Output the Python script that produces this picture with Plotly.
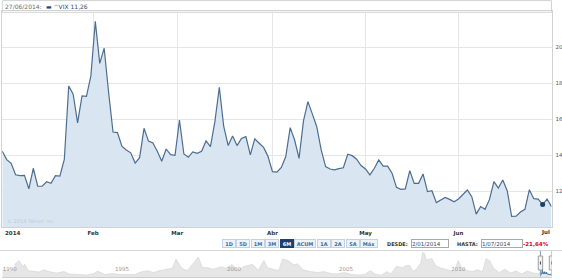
import pandas as pd
import plotly.graph_objects as go

# ---------------- data ----------------
HOLIDAYS = ["2014-01-20", "2014-02-17", "2014-04-18", "2014-05-26"]
dates = pd.bdate_range("2014-01-02", "2014-07-01", freq="C", holidays=HOLIDAYS)

vix = [
    # Jan
    14.23, 13.76, 13.55, 12.92, 12.87, 12.89, 12.14, 13.28, 12.28, 12.28, 12.53,
    12.44, 12.87, 12.84, 13.77, 17.85, 17.40, 15.80, 17.30, 17.28, 18.41,
    # Feb
    21.44, 19.11, 19.95, 17.50, 15.29, 15.26, 14.51, 14.30, 14.14, 13.57,
    13.87, 15.50, 14.79, 14.68, 14.23, 13.67, 14.35, 14.04, 14.00,
    # Mar
    15.96, 14.07, 13.89, 14.19, 14.11, 14.22, 14.80, 14.48, 15.87, 17.78, 15.60,
    14.54, 15.07, 14.54, 14.94, 15.04, 14.02, 14.91, 14.67, 14.44, 13.93,
    # Apr
    13.09, 13.07, 13.33, 13.93, 15.54, 14.85, 13.83, 15.91, 16.98, 16.30, 15.59,
    14.30, 13.37, 13.24, 13.19, 13.26, 13.31, 14.06, 13.98, 13.78, 13.43,
    # May
    13.24, 12.91, 13.28, 13.74, 13.40, 13.40, 13.00, 12.22, 12.11, 12.13, 13.15,
    12.44, 12.44, 12.96, 11.98, 12.03, 11.37, 11.52, 11.66, 11.55, 11.42,
    # Jun + Jul 1
    11.57, 11.85, 12.07, 11.70, 10.73, 11.15, 11.00, 11.55, 12.54, 12.18, 12.63,
    12.03, 10.61, 10.62, 10.85, 11.00, 12.09, 11.59, 11.57, 11.26, 11.57, 11.15,
]

month_ticks = ["2014-01-31 12:00", "2014-02-28 12:00", "2014-04-01", "2014-05-01", "2014-06-02"]
month_labels = ["Feb", "Mar", "Abr", "May", "Jun"]
first_label = "2014"
last_label = "Jul"
y_ticks = [12, 14, 16, 18, 20]

hover_date = "2014-06-27"

hist_dates = [
    "1990-01", "1990-04", "1990-07", "1990-08", "1990-10", "1990-12", "1991-01", "1991-03",
    "1991-06", "1991-09", "1991-11", "1992-02", "1992-06", "1992-10", "1993-01", "1993-06",
    "1993-10", "1994-02", "1994-04", "1994-08", "1994-12", "1995-04", "1995-08", "1995-12",
    "1996-03", "1996-07", "1996-10", "1997-01", "1997-04", "1997-08", "1997-10", "1998-01",
    "1998-04", "1998-08", "1998-10", "1998-12", "1999-03", "1999-06", "1999-10", "2000-01",
    "2000-04", "2000-07", "2000-10", "2000-12", "2001-03", "2001-06", "2001-09", "2001-11",
    "2002-02", "2002-05", "2002-07", "2002-10", "2003-01", "2003-03", "2003-06", "2003-10",
    "2004-02", "2004-05", "2004-09", "2004-12", "2005-04", "2005-08", "2005-12", "2006-03",
    "2006-06", "2006-09", "2006-12", "2007-03", "2007-05", "2007-08", "2007-11", "2008-01",
    "2008-03", "2008-05", "2008-07", "2008-09", "2008-10", "2008-11", "2008-12", "2009-03",
    "2009-05", "2009-08", "2009-12", "2010-03", "2010-05", "2010-07", "2010-10", "2011-01",
    "2011-03", "2011-06", "2011-08", "2011-10", "2011-12", "2012-03", "2012-06", "2012-09",
    "2012-12", "2013-03", "2013-06", "2013-09", "2013-12", "2014-02", "2014-04", "2014-06",
]
hist_vix = [
    22, 19, 17, 34, 41, 28, 33, 20,
    18, 17, 22, 18, 15, 18, 13, 12,
    11, 14, 19, 12, 14, 12, 12, 12,
    17, 20, 16, 20, 22, 25, 44, 25,
    20, 40, 48, 27, 26, 23, 28, 25,
    33, 20, 28, 30, 33, 21, 41, 26,
    23, 20, 44, 41, 32, 34, 22, 18,
    16, 18, 14, 13, 16, 12, 11, 12,
    20, 12, 11, 18, 13, 29, 26, 30,
    31, 18, 25, 36, 58, 55, 42, 45,
    30, 25, 21, 17, 41, 25, 20, 18,
    22, 18, 45, 40, 25, 16, 23, 15,
    19, 13, 19, 15, 14, 18, 15, 11,
]
year_ticks = ["1990-01-01", "1995-01-01", "2000-01-01", "2005-01-01", "2010-01-01"]
year_labels = ["1990", "1995", "2000", "2005", "2010"]

buttons = ["1D", "5D", "1M", "3M", "6M", "ACUM", "1A", "2A", "5A", "Máx"]
selected_button = "6M"

# ---------------- helpers (pixel -> paper) ----------------
W, H = 562, 280
def px(x):
    return x / W
def py(y):
    return 1 - y / H

FONT = "DejaVu Sans"
LINE_C = "#4d6d90"
FILL_C = "#d9e6f2"
GRID_C = "#e6e6e6"
FRAME_C = "#d2d2d2"

fig = go.Figure()

fig.add_trace(go.Scatter(
    x=dates, y=vix, mode="lines", fill="tozeroy",
    line=dict(color=LINE_C, width=1.2), fillcolor=FILL_C,
    xaxis="x", yaxis="y", hoverinfo="skip", showlegend=False,
))
hi = [d.strftime("%Y-%m-%d") for d in dates].index(hover_date)
fig.add_trace(go.Scatter(
    x=[dates[hi]], y=[vix[hi]], mode="markers",
    marker=dict(color="#1c3d6b", size=5),
    xaxis="x", yaxis="y", hoverinfo="skip", showlegend=False,
))

# navigator
fig.add_trace(go.Scatter(
    x=hist_dates, y=hist_vix, mode="lines", fill="tozeroy",
    line=dict(color="#d4d4d4", width=0.6), fillcolor="#e6e6e6",
    xaxis="x2", yaxis="y2", hoverinfo="skip", showlegend=False,
))
fig.add_trace(go.Scatter(
    x=dates, y=vix, mode="lines",
    line=dict(color="#3f6f9f", width=1),
    xaxis="x2", yaxis="y2", hoverinfo="skip", showlegend=False,
))

x_dom = [px(2.3), px(551.5)]

fig.update_layout(
    width=W, height=H, autosize=False,
    margin=dict(l=0, r=0, t=0, b=0),
    paper_bgcolor="white", plot_bgcolor="white",
    font=dict(family=FONT, size=6, color="#555"),
    showlegend=False,
    xaxis=dict(
        domain=x_dom, anchor="y",
        range=[dates[0], dates[-1]],
        rangebreaks=[dict(bounds=["sat", "mon"]), dict(values=HOLIDAYS)],
        tickvals=month_ticks, ticktext=month_labels, ticks="",
        tickfont=dict(family=FONT, size=5.5, color="#333", weight="bold"),
        showgrid=True, gridcolor=GRID_C, gridwidth=1,
        showline=True, mirror=True, linecolor=FRAME_C, linewidth=1,
        zeroline=False, fixedrange=True,
    ),
    yaxis=dict(
        domain=[py(227.3), py(11.3)], anchor="x",
        range=[10, 22], side="right",
        tickvals=y_ticks, ticks="", ticklabelstandoff=2,
        tickfont=dict(family=FONT, size=5.5, color="#555"),
        showgrid=True, gridcolor=GRID_C, gridwidth=1,
        showline=True, mirror=True, linecolor=FRAME_C, linewidth=1,
        zeroline=False, fixedrange=True,
    ),
    xaxis2=dict(
        domain=x_dom, anchor="y2",
        range=["1990-01-01", "2014-07-01"],
        tickvals=year_ticks, ticktext=year_labels, ticks="",
        ticklabelposition="inside right",
        tickfont=dict(family=FONT, size=5.5, color="#999"),
        showgrid=False, showline=True, linecolor="#cfcfcf", linewidth=1,
        zeroline=False, fixedrange=True,
    ),
    yaxis2=dict(
        domain=[py(277), py(251)], anchor="x2",
        range=[6.85, 60.5], visible=False, fixedrange=True,
    ),
)

shapes = [
    # header box
    dict(type="rect", xref="paper", yref="paper",
         x0=px(2.3), x1=px(551.5), y0=py(12.3), y1=py(0.6),
         line=dict(color=FRAME_C, width=1), fillcolor="white", layer="below"),
    # separator / navigator top
    dict(type="line", xref="paper", yref="paper",
         x0=0, x1=1, y0=py(250.5), y1=py(250.5),
         line=dict(color="#d6d6d6", width=1)),
]
# navigator handles at the selected range
for d in [dates[0], dates[-1]]:
    shapes.append(dict(type="line", xref="x2", yref="paper",
                       x0=d, x1=d, y0=py(276.5), y1=py(251),
                       line=dict(color="#7f9fbf", width=1)))
    shapes.append(dict(type="rect", xref="x2", yref="paper",
                       xsizemode="pixel", xanchor=d, x0=-2.2, x1=2.2,
                       y0=py(270), y1=py(256),
                       line=dict(color="#8a8a8a", width=0.8), fillcolor="#f2f2f2"))
    shapes.append(dict(type="line", xref="x2", yref="paper",
                       xsizemode="pixel", xanchor=d, x0=0, x1=0,
                       y0=py(264.5), y1=py(261.5),
                       line=dict(color="#444", width=1)))
fig.update_layout(shapes=shapes)

ann = []
hd = pd.Timestamp(hover_date)
ann.append(dict(text=f"{hd.day:02d}/{hd.month:02d}/{hd.year}:", x=px(2.8), y=py(6.8),
                xref="paper", yref="paper", xanchor="left", yanchor="middle",
                showarrow=False, font=dict(family=FONT, size=6, color="#6a6a6a")))
ann.append(dict(text=f"▬ ^VIX {vix[hi]:.2f}".replace(".", ","), x=px(44), y=py(6.8),
                xref="paper", yref="paper", xanchor="left", yanchor="middle",
                showarrow=False, font=dict(family=FONT, size=6, color="#1f4b7c")))
ann.append(dict(text="© 2014 Yahoo! Inc.", x=px(5), y=py(221),
                xref="paper", yref="paper", xanchor="left", yanchor="middle",
                showarrow=False, font=dict(family=FONT, size=5, color="#bccde0")))
ann.append(dict(text=first_label, x=px(3), y=py(232.5),
                xref="paper", yref="paper", xanchor="left", yanchor="middle",
                showarrow=False, font=dict(family=FONT, size=5.5, color="#333", weight="bold")))
ann.append(dict(text=last_label, x=px(551.5), y=py(232.5),
                xref="paper", yref="paper", xanchor="right", yanchor="middle",
                showarrow=False, font=dict(family=FONT, size=5.5, color="#333", weight="bold")))

# range buttons
bx = 222.0
for b in buttons:
    w = 20 if b == "ACUM" else (16 if b == "Máx" else 12)
    sel = b == selected_button
    ann.append(dict(text=b, x=px(bx + (w + 1) / 2), y=py(243),
                    xref="paper", yref="paper", xanchor="center", yanchor="middle",
                    showarrow=False, width=w, height=7, borderpad=0, borderwidth=1,
                    bgcolor="#1f3f6d" if sel else "#eef3f8",
                    bordercolor="#1f3f6d" if sel else "#c3d2e2",
                    font=dict(family=FONT, size=5, color="white" if sel else "#3a6ca0",
                              weight="bold")))
    bx += w + 2.5

d0, d1 = dates[0], dates[-1]
ann.append(dict(text="DESDE:", x=px(410), y=py(243.5), xref="paper", yref="paper",
                xanchor="right", yanchor="middle", showarrow=False,
                font=dict(family=FONT, size=5, color="#333", weight="bold")))
ann.append(dict(text=f"{d0.day}/{d0.month:02d}/{d0.year}", x=px(411), y=py(243.5),
                xref="paper", yref="paper", xanchor="left", yanchor="middle",
                showarrow=False, width=36, height=7, align="left", borderpad=0,
                borderwidth=1, bordercolor="#a9a9a9", bgcolor="white",
                font=dict(family=FONT, size=5.5, color="#2b4c74")))
ann.append(dict(text="HASTA:", x=px(480), y=py(243.5), xref="paper", yref="paper",
                xanchor="right", yanchor="middle", showarrow=False,
                font=dict(family=FONT, size=5, color="#333", weight="bold")))
ann.append(dict(text=f"{d1.day}/{d1.month:02d}/{d1.year}", x=px(481), y=py(243.5),
                xref="paper", yref="paper", xanchor="left", yanchor="middle",
                showarrow=False, width=40, height=7, align="left", borderpad=0,
                borderwidth=1, bordercolor="#a9a9a9", bgcolor="white",
                font=dict(family=FONT, size=5.5, color="#2b4c74")))
pct = (vix[-1] - vix[0]) / vix[0] * 100
ann.append(dict(text=f"{pct:.2f}%".replace(".", ","), x=px(551), y=py(243.5),
                xref="paper", yref="paper", xanchor="right", yanchor="middle",
                showarrow=False, font=dict(family=FONT, size=5.5, color="#d0021b",
                                           weight="bold")))
fig.update_layout(annotations=ann)

fig.write_html("out.html", config={"displayModeBar": False})
